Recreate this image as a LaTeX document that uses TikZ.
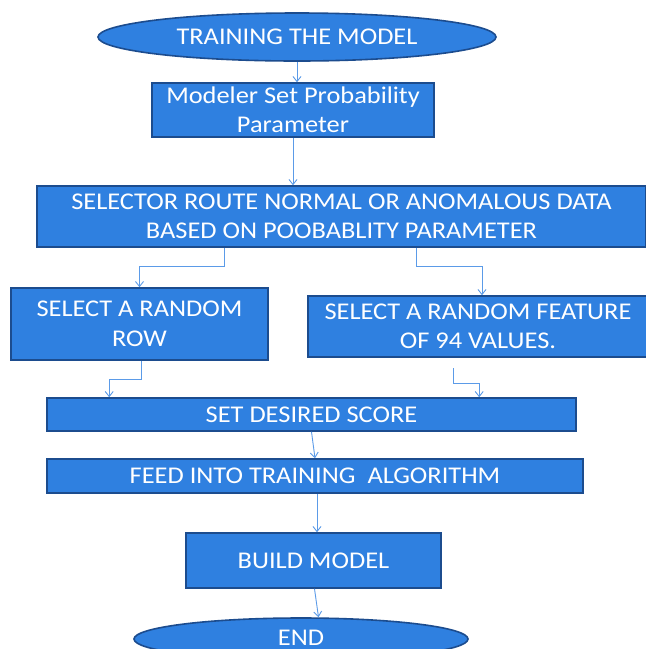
\documentclass[tikz,border=0pt]{standalone}
\usepackage{fontspec}
\setmainfont{Carlito}[FakeStretch=1.1]
\usetikzlibrary{arrows.meta,calc,shapes.geometric}
\definecolor{boxfill}{HTML}{2F80E0}
\definecolor{boxline}{HTML}{1C4C8E}
\definecolor{arrline}{HTML}{5B9BE8}
\tikzset{
  flowbox/.style={draw=boxline, line width=1.6pt, fill=boxfill, text=white, rectangle, inner sep=0pt, align=center,
    font=\fontsize{24}{29.5}\selectfont},
  term/.style={flowbox, ellipse},
  label text/.style={text=white, inner sep=0pt, font=\fontsize{24}{29.5}\selectfont},
  arr/.style={draw=arrline, line width=0.9pt, -{Straight Barb[length=5pt,width=8pt]}}
}
\begin{document}
\begin{tikzpicture}[x=1pt,y=-1pt]
\clip (0,0) rectangle (646,649);
\useasboundingbox (0,0) rectangle (646,649);
\fill[white] (0,0) rectangle (646,649);
\node[term, minimum width=398, minimum height=48] (e1) at (297,37) {TRAINING THE MODEL};
\node[flowbox, minimum width=282, minimum height=54] (b1) at (293,110) {Modeler Set Probability\\Parameter};
\node[flowbox, minimum width=609, minimum height=61] (sel) at (341.5,216.5) {SELECTOR ROUTE NORMAL OR ANOMALOUS DATA\\BASED ON POOBABLITY PARAMETER};
\node[flowbox, minimum width=257, minimum height=72] (l) at (139.5,324) {SELECT A RANDOM\\ROW};
\node[flowbox, minimum width=340, minimum height=61] (r) at (478,326.5) {SELECT A RANDOM FEATURE\\OF 94 VALUES.};
\node[flowbox, minimum width=529, minimum height=33] (s) at (311.5,414.5) {SET DESIRED SCORE};
\node[flowbox, minimum width=536, minimum height=34] (f) at (315,476) {FEED INTO TRAINING\ \ ALGORITHM};
\node[flowbox, minimum width=255, minimum height=55] (bm) at (313.5,560.5) {BUILD MODEL};
\node[term, minimum width=334, minimum height=42] (fin) at (301,639) {};
\node[label text, anchor=base] (fintext) at (301,645) {END};
\coordinate (rs) at (453,368);
\draw[arr] (e1.south) -- (e1.south |- b1.north);
\draw[arr] (b1.south) -- (b1.south |- sel.north);
\draw[arr] ($(sel.south)+(-117,0)$) -- ++(0,19) -| (l.north);
\draw[arr] ($(sel.south)+(75,0)$) -- ++(0,19) -| ($(r.north)+(4,0)$);
\draw[arr] ($(l.south)+(2,0)$) -- ++(0,19) -| ($(s.north west)+(63,0)$);
\draw[arr] (rs) -- ++(0,15) -| ($(s.north west)+(433,0)$);
\draw[arr] (s.south) -- (f.north);
\draw[arr] ($(f.south)+(2,0)$) -- ($(bm.north)+(3.5,0)$);
\draw[arr] ($(bm.south)+(1,0)$) -- ($(bm.south |- fin.north)+(5,0)$);
\end{tikzpicture}
\end{document}
